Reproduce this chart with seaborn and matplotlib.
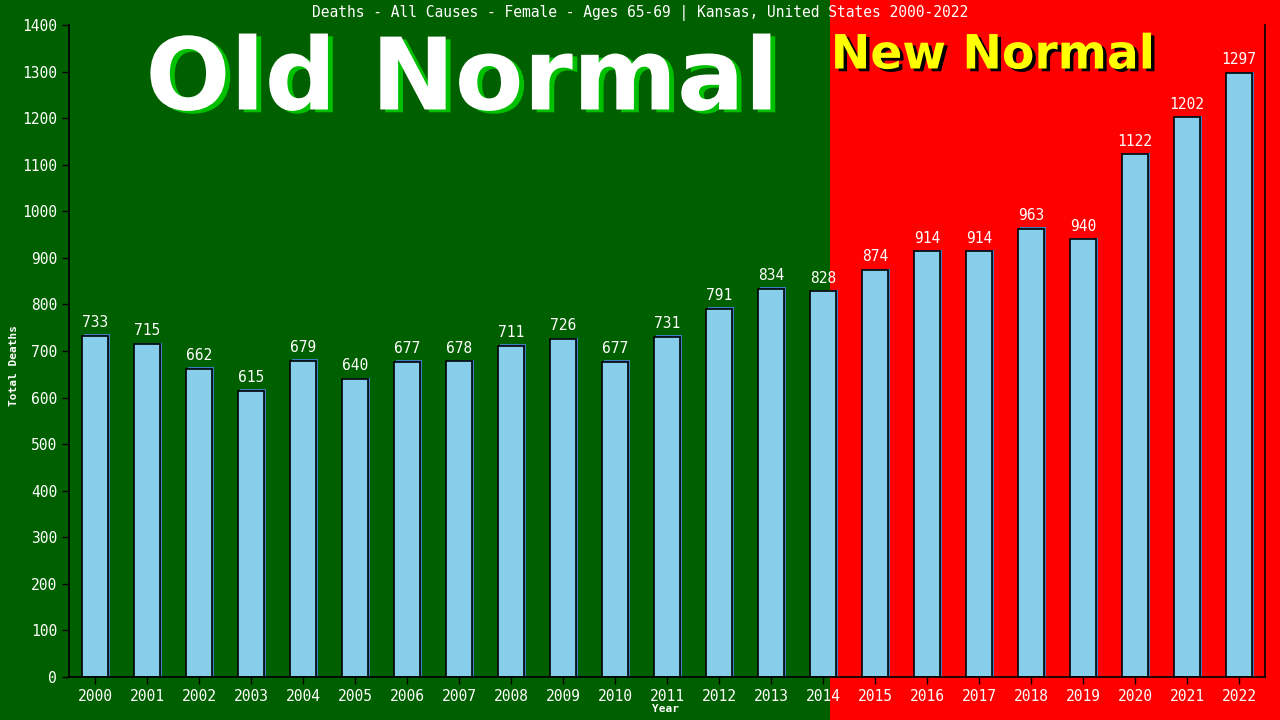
import matplotlib
matplotlib.use('Agg')
import matplotlib.pyplot as plt
import matplotlib.patheffects as pe
from matplotlib.patches import Rectangle
import seaborn as sns
import pandas as pd

years = [str(y) for y in range(2000, 2023)]
deaths = [733, 715, 662, 615, 679, 640, 677, 678, 711, 726, 677, 731, 791,
          834, 828, 874, 914, 914, 963, 940, 1122, 1202, 1297]
yticks = list(range(0, 1401, 100))
title = "Deaths - All Causes - Female - Ages 65-69 | Kansas, United States 2000-2022"

df = pd.DataFrame({"Year": years, "Deaths": deaths})

sns.set_theme(style="white")
plt.rcParams['font.family'] = ['DejaVu Sans Mono', 'DejaVu Sans']

fig = plt.figure(figsize=(12.8, 7.2), dpi=100)
green = '#006000'
red = '#ff0000'
split = 830 / 1280
fig.patches.append(Rectangle((0, 0), split, 1, transform=fig.transFigure,
                             facecolor=green, edgecolor='none', zorder=-10))
fig.patches.append(Rectangle((split, 0), 1 - split, 1, transform=fig.transFigure,
                             facecolor=red, edgecolor='none', zorder=-10))

ax = fig.add_axes([69 / 1280, 43 / 720, (1265 - 69) / 1280, (677 - 25) / 720])
ax.patch.set_visible(False)

sns.barplot(data=df, x="Year", y="Deaths", color='#87ceeb', width=0.5,
            edgecolor='black', linewidth=1.2, saturation=1, ax=ax)
for bar in ax.patches:
    bar.set_path_effects([pe.SimplePatchShadow(offset=(1.5, 1), shadow_rgbFace='#3a7fc0', alpha=1),
                          pe.Normal()])

for i, v in enumerate(deaths):
    ax.text(i, v + 12, str(v), ha='center', va='bottom', color='white',
            fontsize=10.5, fontfamily='DejaVu Sans Mono')

ax.set_ylim(0, 1400)
ax.set_xlim(-0.5, len(years) - 0.5)
ax.set_yticks(yticks)
ax.tick_params(axis='both', colors='black', length=5, width=1, labelcolor='white',
               labelsize=10.5, direction='out', left=True, bottom=True)
ax.set_xlabel("")
ax.set_ylabel("")
for s in ['left', 'bottom', 'right']:
    ax.spines[s].set_color('black')
    ax.spines[s].set_linewidth(1.2)
    ax.spines[s].set_visible(True)
ax.spines['top'].set_visible(False)

fig.text(666 / 1280, 1 - 709 / 720, "Year", ha='center', va='center', color='white',
         fontsize=8, fontweight='bold')
fig.text(14 / 1280, 1 - 365 / 720, "Total Deaths", ha='center', va='center', color='white',
         fontsize=8, fontweight='bold', rotation=90)

fig.text(0.5, 0.982, title, ha='center', va='center', color='white', fontsize=10.5)

fig.text(462 / 1280, 1 - 82 / 720, "Old Normal", ha='center', va='center', color='white',
         fontsize=72, fontweight='bold', fontfamily='DejaVu Sans',
         path_effects=[pe.withSimplePatchShadow(offset=(3.5, -2), shadow_rgbFace='#00c000', alpha=1)])
fig.text(993 / 1280, 1 - 56 / 720, "New Normal", ha='center', va='center', color='#ffff00',
         fontsize=34, fontweight='bold', fontfamily='DejaVu Sans',
         path_effects=[pe.withSimplePatchShadow(offset=(2.5, -2), shadow_rgbFace='black', alpha=1)])

fig.savefig('out.png', dpi=100)
